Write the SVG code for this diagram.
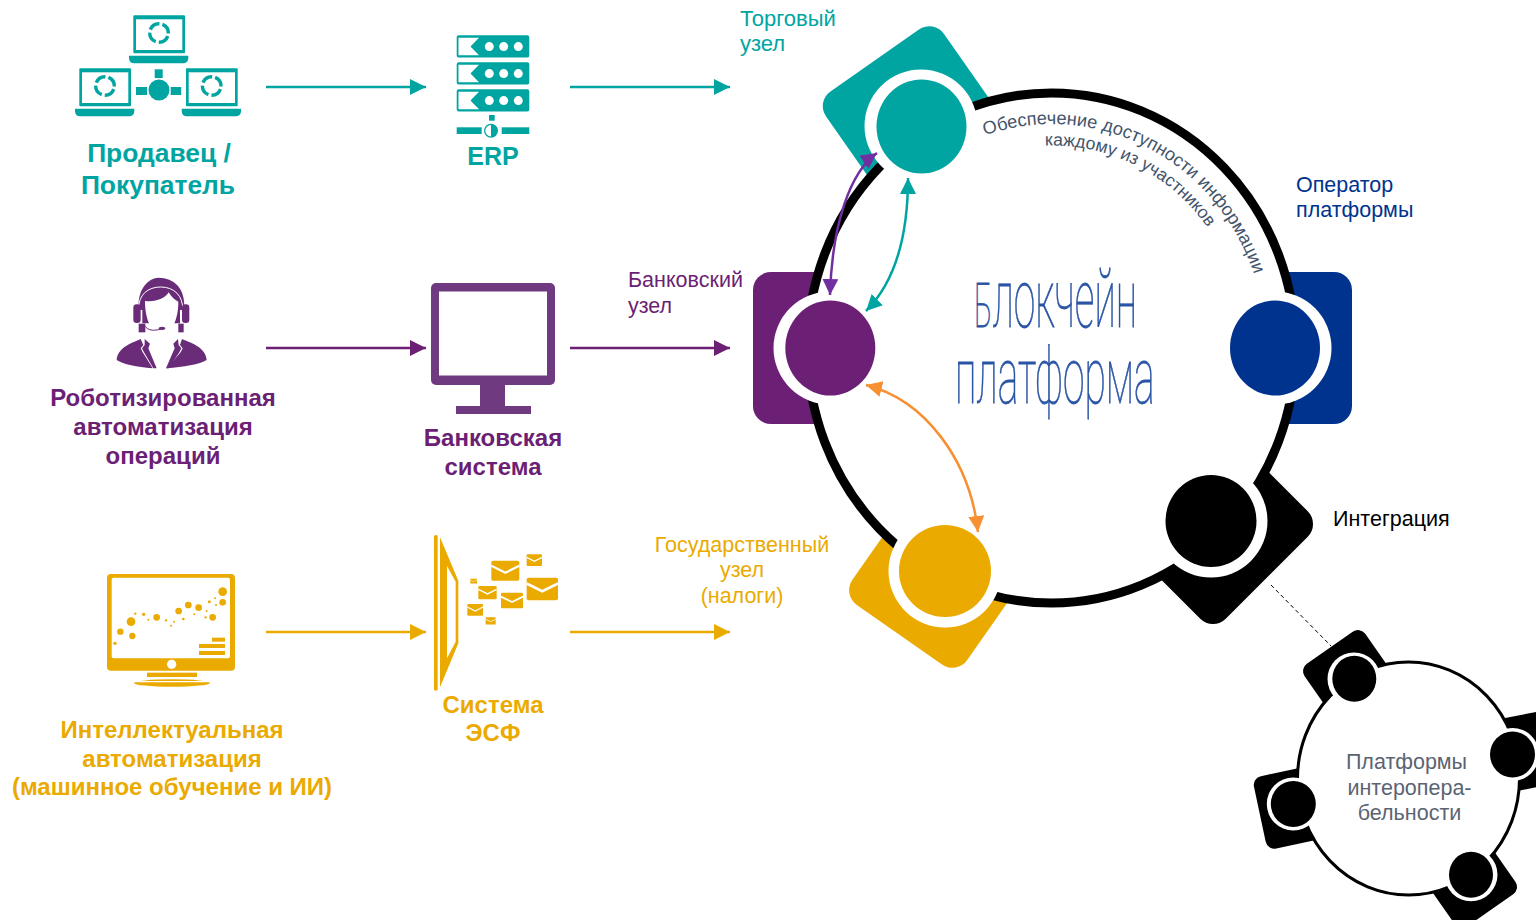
<svg xmlns="http://www.w3.org/2000/svg" xmlns:xlink="http://www.w3.org/1999/xlink" width="1536" height="920" viewBox="0 0 1536 920">
<style>
text{font-family:"Liberation Sans",Arial,sans-serif}
.b{font-weight:700;font-size:24px;text-anchor:middle}
.bt{font-size:26.4px}
.l{font-size:21.5px}
.teal{fill:#00a5a2}.purple{fill:#6b1f75}.gold{fill:#eaaa00}
.conn{fill:none;stroke-width:2.5}
.halo{fill:#fff}
.curve{font-size:18.2px;fill:#44546a}
.small{font-size:21.5px;fill:#5b6472;text-anchor:middle}
.title{font-family:Roboto,"Liberation Sans",sans-serif;font-weight:100;fill:#2a55a5;stroke:#2a55a5;stroke-width:.8}
</style>
<defs>
<marker id="at" markerUnits="userSpaceOnUse" markerWidth="17" markerHeight="17" refX="16" refY="8" orient="auto-start-reverse"><path d="M0 0L16 8L0 16Z" fill="#00a5a2"/></marker>
<marker id="ap" markerUnits="userSpaceOnUse" markerWidth="17" markerHeight="17" refX="16" refY="8" orient="auto-start-reverse"><path d="M0 0L16 8L0 16Z" fill="#6b1f75"/></marker>
<marker id="ag" markerUnits="userSpaceOnUse" markerWidth="17" markerHeight="17" refX="16" refY="8" orient="auto-start-reverse"><path d="M0 0L16 8L0 16Z" fill="#eaaa00"/></marker>
<marker id="av" markerUnits="userSpaceOnUse" markerWidth="17" markerHeight="17" refX="16" refY="8" orient="auto-start-reverse"><path d="M0 0L16 8L0 16Z" fill="#7030a0"/></marker>
<marker id="ao" markerUnits="userSpaceOnUse" markerWidth="17" markerHeight="17" refX="16" refY="8" orient="auto-start-reverse"><path d="M0 0L16 8L0 16Z" fill="#f79031"/></marker>
<g id="laptop">
<rect x="133.3" y="15.3" width="51.7" height="38" rx="1" fill="#00a5a2"/>
<rect x="136" y="19.3" width="46.3" height="30.7" fill="#fff"/>
<path d="M129 55.7H188.3V58C188.3 61.5 186 63.3 183 63.3H134C131 63.3 129 61.5 129 58Z" fill="#00a5a2"/>
<circle cx="159" cy="33" r="9.3" fill="none" stroke="#00a5a2" stroke-width="3.4" stroke-dasharray="11.5 3.1" transform="rotate(20 159 33)"/>
</g>
<g id="server">
<path fill-rule="evenodd" fill="#00a5a2" d="M458.7 0H527.3A2 2 0 0 1 529.3 2V20.3A2 2 0 0 1 527.3 22.3H458.7A2 2 0 0 1 456.7 20.3V2A2 2 0 0 1 458.7 0ZM458.5 2.5V20H479L470.5 11.2L479 2.5Z"/>
<circle cx="489.3" cy="11.3" r="4.5" fill="#fff"/><circle cx="503.7" cy="11.3" r="4.5" fill="#fff"/><circle cx="518.3" cy="11.3" r="4.5" fill="#fff"/>
</g>
<g id="env">
<rect width="100" height="70" rx="6" fill="#eaaa00"/>
<path d="M0 18L50 42L100 18" fill="none" stroke="#fff" stroke-width="8"/>
</g>
</defs>
<rect width="1536" height="920" fill="#fff"/>

<g id="seller">
<use xlink:href="#laptop" href="#laptop"/>
<use xlink:href="#laptop" href="#laptop" x="-54" y="53"/>
<use xlink:href="#laptop" href="#laptop" x="52.7" y="53"/>
<g class="teal"><circle cx="159" cy="90" r="10.5"/><rect x="154.7" y="69.3" width="8" height="8.7"/><rect x="136" y="87" width="11" height="8"/><rect x="170.7" y="87" width="10.5" height="8"/></g>
<text class="b bt teal" x="159" y="162">Продавец /</text>
<text class="b bt teal" x="158" y="194">Покупатель</text>
</g>

<g id="erp">
<use xlink:href="#server" href="#server" y="35.3"/>
<use xlink:href="#server" href="#server" y="62.3"/>
<use xlink:href="#server" href="#server" y="89.3"/>
<g class="teal"><rect x="489" y="115" width="5.7" height="5.7"/><rect x="456.7" y="127.3" width="25" height="6.7"/><rect x="501.7" y="127.3" width="27.6" height="6.7"/>
<circle cx="491" cy="130.7" r="7"/></g>
<path d="M491 125A5.7 5.7 0 0 0 491 136.4Z" fill="#fff"/>
<text class="b teal" x="493" y="165" style="font-size:25px">ERP</text>
</g>

<g id="rpa">
<g transform="translate(100 265) scale(0.3333)" fill="#6a2c78">
<path d="M116 135C110 70 148 38 175 38C222 38 258 70 252 135Z"/>
<path d="M116 135C114 88 145 66 182 66C222 66 250 92 248 135" fill="none" stroke="#fff" stroke-width="3"/>
<path d="M127 125C127 95 150 76 182 76C215 76 240 95 240 125V175H127Z"/>
<path d="M135 108C165 112 195 102 206 82C214 96 226 106 235 110C235 165 215 206 185 206C155 206 135 165 135 108Z" fill="#fff"/>
<rect x="100" y="118" width="22" height="56" rx="10"/><rect x="246" y="118" width="22" height="56" rx="10"/>
<rect x="116" y="176" width="20" height="26"/><rect x="235" y="176" width="16" height="26"/>
<path d="M132 180C145 200 165 198 190 190" fill="none" stroke="#6a2c78" stroke-width="3"/>
<ellipse cx="186" cy="190" rx="10" ry="5"/>
<path d="M50 285C52 250 90 236 122 222L130 240L122 250L128 262L158 310C110 306 70 298 50 285Z"/>
<path d="M320 285C318 250 280 236 246 222L240 240L248 250L242 262L200 310C250 306 300 298 320 285Z"/>
<path d="M134 222L150 236L145 250L170 310H160L132 262L126 250L134 240ZM234 222L220 236L224 250L198 310H206L238 262L244 250L236 240Z"/>
</g>
<text class="b purple" x="163" y="406">Роботизированная</text>
<text class="b purple" x="163" y="435">автоматизация</text>
<text class="b purple" x="163" y="464">операций</text>
</g>

<g id="bank-system">
<rect x="431" y="283" width="124" height="102" rx="5" fill="#6f3a80"/>
<rect x="439" y="291.500" width="108" height="84" fill="#fff"/>
<rect x="480" y="385" width="25" height="21" fill="#6f3a80"/>
<rect x="456" y="406" width="75" height="8" fill="#6f3a80"/>
<text class="b purple" x="493" y="446">Банковская</text>
<text class="b purple" x="493" y="475">система</text>
</g>

<g id="iai">
<g transform="translate(95 565) scale(0.3333)" fill="#eaaa00">
<rect x="36" y="27" width="384" height="290" rx="12"/>
<rect x="50" y="38" width="355" height="242" rx="6" fill="#fff"/>
<circle cx="230" cy="298" r="14" fill="#fff"/>
<rect x="156" y="323" width="150" height="13"/>
<ellipse cx="231" cy="354" rx="114" ry="11"/>
<path d="M120 350H342" stroke="#fff" stroke-width="4"/>
<circle cx="60" cy="235" r="5"/><circle cx="76" cy="200" r="9.5"/><circle cx="108" cy="170" r="13"/><circle cx="112" cy="213" r="9.5"/><circle cx="121" cy="146" r="3.5"/><circle cx="146" cy="148" r="5"/><circle cx="160" cy="164" r="3"/><circle cx="185" cy="157" r="10"/><circle cx="213" cy="166" r="3.5"/><circle cx="228" cy="182" r="3"/><circle cx="237" cy="170" r="3"/><circle cx="251" cy="138" r="10"/><circle cx="265" cy="162" r="4"/><circle cx="280" cy="120" r="10"/><circle cx="298" cy="148" r="3"/><circle cx="311" cy="128" r="10"/><circle cx="332" cy="157" r="3.5"/><circle cx="335" cy="138" r="3"/><circle cx="343" cy="110" r="4.5"/><circle cx="353" cy="157" r="10"/><circle cx="360" cy="100" r="3"/><circle cx="363" cy="120" r="3"/><circle cx="383" cy="80" r="13"/><circle cx="383" cy="112" r="10"/>
<rect x="351" y="218" width="39" height="12"/><rect x="312" y="237" width="78" height="12"/><rect x="312" y="258" width="78" height="12"/>
</g>
<text class="b gold" x="172" y="738">Интеллектуальная</text>
<text class="b gold" x="172" y="767">автоматизация</text>
<text class="b gold" x="172" y="795">(машинное обучение и ИИ)</text>
</g>

<g id="esf">
<g transform="translate(425 530) scale(0.3333)">
<rect x="27" y="15" width="11" height="467" rx="5" fill="#eaaa00"/>
<path fill-rule="evenodd" fill="#eaaa00" d="M45 22L100 152V340L45 472ZM66 108V385L92 335V155Z"/>
<use xlink:href="#env" href="#env" transform="translate(199 92) scale(.84 .86)"/>
<use xlink:href="#env" href="#env" transform="translate(305 73) scale(.46 .5)"/>
<use xlink:href="#env" href="#env" transform="translate(305 143) scale(.94 .97)"/>
<use xlink:href="#env" href="#env" transform="translate(228 188) scale(.66 .67)"/>
<use xlink:href="#env" href="#env" transform="translate(160 168) scale(.55 .57)"/>
<use xlink:href="#env" href="#env" transform="translate(127 222) scale(.47 .5)"/>
<use xlink:href="#env" href="#env" transform="translate(182 262) scale(.3 .31)"/>
<use xlink:href="#env" href="#env" transform="translate(136 146) scale(.2 .21)"/>
</g>
<text class="b gold" x="493" y="713">Система</text>
<text class="b gold" x="493" y="741">ЭСФ</text>
</g>

<g id="platform">
<rect x="753" y="272" width="154" height="152" rx="18" fill="#6b1f75"/>
<rect x="1198" y="272" width="154" height="152" rx="18" fill="#00338d"/>
<rect x="846.300" y="46.700" width="144" height="152" rx="18" fill="#00a5a2" transform="rotate(-35 918.300 122.700)"/>
<rect x="873" y="496.500" width="140" height="152" rx="18" fill="#eaaa00" transform="rotate(35 943 572.500)"/>
<rect x="1137" y="448" width="152" height="152" rx="18" fill="#000" transform="rotate(45 1213 524)"/>
<ellipse cx="1051.500" cy="348" rx="244" ry="255" fill="#fff" stroke="#000" stroke-width="9"/>
<text class="title" transform="translate(974 327) scale(.475 1)"><tspan font-size="62">Б</tspan><tspan font-size="82">локчейн</tspan></text>
<text class="title" font-size="78" transform="translate(955 403) scale(.5 1)">платформа</text>
<path id="t1" d="M985 135.400A214 224 0 0 1 1266 348" fill="none"/>
<path id="t2" d="M1045 145.600A193.500 202.500 0 0 1 1245.500 348" fill="none"/>
<text class="curve"><textPath href="#t1" xlink:href="#t1">Обеспечение доступности информации</textPath></text>
<text class="curve" style="font-size:17.600px"><textPath href="#t2" xlink:href="#t2">каждому из участников</textPath></text>
</g>

<g id="trade-node"><circle class="halo" cx="921" cy="126" r="56.500"/><ellipse cx="921.500" cy="126.500" rx="45" ry="47" fill="#00a5a2"/></g>
<g id="bank-node"><circle class="halo" cx="830" cy="348" r="56.500"/><ellipse cx="830.300" cy="348" rx="45" ry="47.500" fill="#6b1f75"/></g>
<g id="operator-node"><circle class="halo" cx="1275" cy="348" r="56.500"/><ellipse cx="1275" cy="348" rx="45" ry="47.500" fill="#00338d"/></g>
<g id="gov-node"><circle class="halo" cx="945" cy="571" r="56.500"/><ellipse cx="945" cy="571" rx="46" ry="46" fill="#eaaa00"/></g>
<g id="integ-node"><circle class="halo" cx="1211" cy="521" r="56.500"/><ellipse cx="1211" cy="521" rx="45.500" ry="46" fill="#000"/></g>

<g id="interop">
<rect x="1314" y="641" width="74" height="74" rx="9" fill="#000" transform="rotate(-35 1351 678)"/>
<rect x="1487" y="715" width="74" height="74" rx="9" fill="#000" transform="rotate(-11 1524 752)"/>
<rect x="1259" y="769.500" width="74" height="74" rx="9" fill="#000" transform="rotate(-12 1296 806.500)"/>
<rect x="1432" y="843" width="74" height="74" rx="9" fill="#000" transform="rotate(-35 1469 880)"/>
<ellipse cx="1408.500" cy="778.500" rx="111" ry="116.500" fill="#fff" stroke="#000" stroke-width="3"/>
<circle class="halo" cx="1354" cy="679" r="26.500"/><ellipse cx="1354.300" cy="678.700" rx="22" ry="23"/>
<circle class="halo" cx="1512.500" cy="754.500" r="26.500"/><ellipse cx="1512.500" cy="754.500" rx="22.500" ry="23"/>
<circle class="halo" cx="1293.300" cy="804" r="26.500"/><ellipse cx="1293.300" cy="804" rx="22.500" ry="23"/>
<circle class="halo" cx="1471" cy="874.700" r="26.500"/><ellipse cx="1471" cy="874.700" rx="22" ry="23"/>
<text class="small" x="1406.500" y="769">Платформы</text>
<text class="small" x="1409.500" y="795">интеропера-</text>
<text class="small" x="1409.500" y="820">бельности</text>
</g>

<g id="connectors">
<path class="conn" stroke="#00a5a2" d="M266 87H426" marker-end="url(#at)"/>
<path class="conn" stroke="#00a5a2" d="M570 87H730" marker-end="url(#at)"/>
<path class="conn" stroke="#6b1f75" d="M266 348H426" marker-end="url(#ap)"/>
<path class="conn" stroke="#6b1f75" d="M570 348H730" marker-end="url(#ap)"/>
<path class="conn" stroke="#eaaa00" d="M266 632H426" marker-end="url(#ag)"/>
<path class="conn" stroke="#eaaa00" d="M570 632H730" marker-end="url(#ag)"/>
<path class="conn" stroke="#00a5a2" d="M908 178C908 230 897 280 866 311" marker-start="url(#at)" marker-end="url(#at)"/>
<path class="conn" stroke="#7030a0" d="M877 153C850 172 832 225 830 295" marker-start="url(#av)" marker-end="url(#av)"/>
<path class="conn" stroke="#f79031" d="M866 385C925 400 970 460 978 532" marker-start="url(#ao)" marker-end="url(#ao)"/>
<path d="M1271 585L1331 646" fill="none" stroke="#000" stroke-width="1" stroke-dasharray="4 3"/>
</g>

<g id="labels">
<text class="l teal" style="font-size:22px" x="740" y="26">Торговый</text><text class="l teal" style="font-size:22px" x="740" y="51">узел</text>
<text class="l purple" x="628" y="287">Банковский</text><text class="l purple" x="628" y="313">узел</text>
<text class="l" fill="#00338d" x="1296" y="192">Оператор</text><text class="l" fill="#00338d" x="1296" y="217">платформы</text>
<text class="l" fill="#000" x="1333" y="526">Интеграция</text>
<text class="l gold" text-anchor="middle" x="742" y="552">Государственный</text><text class="l gold" text-anchor="middle" x="742" y="577">узел</text><text class="l gold" text-anchor="middle" x="742" y="603">(налоги)</text>
</g>
</svg>
